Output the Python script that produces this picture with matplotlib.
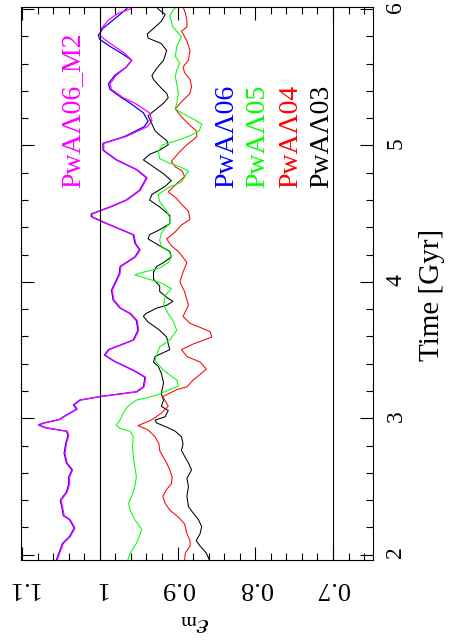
import matplotlib
matplotlib.use('Agg')
import matplotlib.pyplot as plt
from matplotlib.ticker import MultipleLocator, FuncFormatter

plt.rcParams['font.family'] = ['Liberation Serif', 'DejaVu Serif']
plt.rcParams['mathtext.fontset'] = 'stix'

# time [Gyr] and eps_m for each run
t_a06 = [1.961, 2.022, 2.083, 2.133, 2.195, 2.256, 2.286, 2.352, 2.398, 2.459,
         2.520, 2.570, 2.621, 2.672, 2.743, 2.814, 2.875, 2.905, 2.930, 2.951,
         2.966, 2.991, 3.011, 3.037, 3.067, 3.098, 3.133, 3.159, 3.194, 3.230,
         3.301, 3.351, 3.422, 3.463, 3.503, 3.574, 3.645, 3.716, 3.767, 3.807,
         3.868, 3.939, 4.010, 4.061, 4.112, 4.183, 4.234, 4.284, 4.345, 4.376,
         4.426, 4.477, 4.498, 4.549, 4.600, 4.671, 4.762, 4.823, 4.894, 4.965,
         5.015, 5.066, 5.137, 5.178, 5.239, 5.310, 5.350, 5.411, 5.452, 5.513,
         5.574, 5.625, 5.675, 5.726, 5.777, 5.807, 5.858, 5.919, 5.970, 6.000,
         6.017]
eps_a06 = [1.056, 1.052, 1.048, 1.039, 1.033, 1.039, 1.047, 1.049, 1.051, 1.043,
           1.040, 1.040, 1.036, 1.043, 1.046, 1.044, 1.041, 1.043, 1.070, 1.079,
           1.072, 1.052, 1.047, 1.039, 1.030, 1.034, 1.026, 1.000, 0.953, 0.944,
           0.942, 0.957, 0.983, 0.994, 0.989, 0.957, 0.951, 0.953, 0.961, 0.974,
           0.983, 0.985, 0.979, 0.975, 0.974, 0.955, 0.949, 0.955, 0.957, 0.970,
           0.991, 1.011, 1.011, 0.987, 0.966, 0.949, 0.940, 0.953, 0.979, 0.996,
           0.996, 0.968, 0.943, 0.938, 0.944, 0.961, 0.972, 0.987, 0.989, 0.981,
           0.966, 0.959, 0.972, 0.987, 1.000, 1.002, 0.996, 0.983, 0.972, 0.966,
           0.964]
eps_a06_m2 = [1.055, 1.051, 1.047, 1.038, 1.032, 1.038, 1.046, 1.048, 1.050, 1.042,
              1.039, 1.039, 1.035, 1.042, 1.045, 1.043, 1.040, 1.042, 1.069, 1.078,
              1.071, 1.051, 1.046, 1.038, 1.029, 1.033, 1.025, 0.999, 0.952, 0.943,
              0.941, 0.956, 0.982, 0.993, 0.988, 0.956, 0.950, 0.952, 0.960, 0.973,
              0.982, 0.984, 0.978, 0.974, 0.973, 0.954, 0.948, 0.954, 0.956, 0.969,
              0.990, 1.010, 1.010, 0.986, 0.965, 0.948, 0.939, 0.952, 0.978, 0.995,
              0.995, 0.966, 0.939, 0.933, 0.936, 0.955, 0.970, 0.985, 0.987, 0.979,
              0.966, 0.959, 0.968, 0.981, 0.994, 1.000, 0.998, 0.989, 0.976, 0.961,
              0.959]

t_a05 = [1.961, 2.012, 2.083, 2.184, 2.256, 2.326, 2.377, 2.428, 2.499, 2.570,
         2.641, 2.722, 2.793, 2.864, 2.905, 2.925, 2.951, 2.986, 3.037, 3.088,
         3.133, 3.169, 3.210, 3.235, 3.280, 3.351, 3.422, 3.463, 3.524, 3.574,
         3.645, 3.716, 3.767, 3.828, 3.899, 3.950, 3.990, 4.051, 4.071, 4.102,
         4.142, 4.183, 4.224, 4.254, 4.305, 4.356, 4.396, 4.426, 4.467, 4.518,
         4.589, 4.640, 4.691, 4.731, 4.813, 4.843, 4.874, 4.904, 4.955, 5.005,
         5.036, 5.076, 5.107, 5.157, 5.188, 5.239, 5.269, 5.310, 5.381, 5.452,
         5.503, 5.553, 5.604, 5.655, 5.726, 5.797, 5.868, 5.949, 5.990, 6.017]
eps_a05 = [0.964, 0.961, 0.953, 0.946, 0.955, 0.961, 0.963, 0.959, 0.955, 0.953,
           0.955, 0.957, 0.958, 0.957, 0.961, 0.974, 0.979, 0.974, 0.970, 0.964,
           0.953, 0.927, 0.910, 0.899, 0.901, 0.918, 0.929, 0.927, 0.923, 0.910,
           0.901, 0.906, 0.912, 0.918, 0.916, 0.908, 0.920, 0.955, 0.944, 0.923,
           0.912, 0.908, 0.911, 0.921, 0.923, 0.921, 0.916, 0.910, 0.910, 0.914,
           0.923, 0.925, 0.912, 0.895, 0.886, 0.897, 0.912, 0.923, 0.925, 0.919,
           0.901, 0.882, 0.872, 0.869, 0.878, 0.895, 0.903, 0.901, 0.899, 0.901,
           0.903, 0.901, 0.897, 0.903, 0.901, 0.895, 0.906, 0.910, 0.906, 0.901]

t_a04 = [1.961, 2.012, 2.063, 2.103, 2.154, 2.225, 2.276, 2.326, 2.377, 2.428,
         2.479, 2.519, 2.570, 2.621, 2.672, 2.722, 2.763, 2.814, 2.864, 2.915,
         2.946, 2.986, 3.037, 3.088, 3.159, 3.210, 3.230, 3.280, 3.331, 3.361,
         3.412, 3.453, 3.503, 3.544, 3.595, 3.635, 3.666, 3.696, 3.747, 3.828,
         3.929, 4.000, 4.071, 4.142, 4.224, 4.264, 4.315, 4.366, 4.417, 4.457,
         4.518, 4.569, 4.610, 4.660, 4.731, 4.772, 4.813, 4.843, 4.884, 4.955,
         5.005, 5.036, 5.066, 5.107, 5.147, 5.198, 5.239, 5.269, 5.320, 5.381,
         5.432, 5.483, 5.533, 5.574, 5.625, 5.696, 5.767, 5.838, 5.868, 5.919,
         5.970, 6.017]
eps_a04 = [0.891, 0.890, 0.884, 0.884, 0.888, 0.891, 0.899, 0.910, 0.916, 0.919,
           0.914, 0.908, 0.907, 0.910, 0.914, 0.919, 0.923, 0.924, 0.929, 0.938,
           0.951, 0.934, 0.921, 0.912, 0.919, 0.901, 0.888, 0.880, 0.869, 0.863,
           0.871, 0.888, 0.895, 0.880, 0.856, 0.858, 0.871, 0.884, 0.893, 0.886,
           0.891, 0.897, 0.893, 0.888, 0.899, 0.908, 0.914, 0.903, 0.895, 0.884,
           0.886, 0.895, 0.901, 0.912, 0.899, 0.891, 0.894, 0.903, 0.908, 0.897,
           0.888, 0.881, 0.875, 0.876, 0.884, 0.893, 0.899, 0.903, 0.895, 0.884,
           0.882, 0.884, 0.891, 0.893, 0.886, 0.884, 0.888, 0.895, 0.888, 0.888,
           0.890, 0.893]

t_a03 = [1.961, 2.012, 2.063, 2.103, 2.154, 2.205, 2.256, 2.306, 2.352, 2.428,
         2.499, 2.560, 2.621, 2.672, 2.722, 2.763, 2.814, 2.864, 2.905, 2.935,
         2.966, 2.986, 3.011, 3.057, 3.088, 3.133, 3.179, 3.260, 3.331, 3.382,
         3.412, 3.453, 3.503, 3.544, 3.595, 3.645, 3.706, 3.747, 3.767, 3.807,
         3.828, 3.858, 3.878, 3.929, 3.970, 4.020, 4.071, 4.112, 4.142, 4.183,
         4.224, 4.264, 4.315, 4.346, 4.376, 4.426, 4.487, 4.549, 4.600, 4.640,
         4.701, 4.742, 4.792, 4.843, 4.894, 4.935, 4.965, 5.005, 5.036, 5.076,
         5.107, 5.157, 5.218, 5.259, 5.310, 5.350, 5.381, 5.432, 5.483, 5.513,
         5.564, 5.625, 5.696, 5.747, 5.787, 5.817, 5.858, 5.909, 5.960, 6.000,
         6.017]
eps_a03 = [0.859, 0.863, 0.871, 0.876, 0.871, 0.869, 0.873, 0.880, 0.886, 0.888,
           0.886, 0.888, 0.882, 0.886, 0.891, 0.895, 0.893, 0.895, 0.903, 0.914,
           0.927, 0.929, 0.916, 0.912, 0.921, 0.918, 0.921, 0.918, 0.921, 0.925,
           0.931, 0.929, 0.910, 0.912, 0.914, 0.923, 0.938, 0.944, 0.941, 0.927,
           0.914, 0.906, 0.912, 0.923, 0.923, 0.931, 0.931, 0.927, 0.918, 0.908,
           0.910, 0.923, 0.938, 0.936, 0.925, 0.910, 0.910, 0.923, 0.936, 0.933,
           0.916, 0.908, 0.918, 0.931, 0.944, 0.936, 0.923, 0.912, 0.914, 0.923,
           0.929, 0.933, 0.938, 0.929, 0.918, 0.912, 0.914, 0.923, 0.931, 0.933,
           0.927, 0.918, 0.914, 0.921, 0.938, 0.939, 0.931, 0.921, 0.916, 0.925,
           0.927]

run_names = ['PwA\u039b06', 'PwA\u039b05', 'PwA\u039b04', 'PwA\u039b03']
run_colors = ['blue', '#00ff00', 'red', 'black']
label_eps = [0.829, 0.788, 0.746, 0.7065]

fig = plt.figure(figsize=(4.75, 6.4), dpi=100)
ax = fig.add_axes([21 / 475, 80 / 640, 352 / 475, 553.3 / 640])

ax.plot(eps_a03, t_a03, color='black', lw=0.75)
ax.plot(eps_a04, t_a04, color='red', lw=0.75)
ax.plot(eps_a05, t_a05, color='#00ff00', lw=0.75)
ax.plot(eps_a06, t_a06, color='blue', lw=0.9)
ax.plot(eps_a06_m2, t_a06, color='magenta', lw=0.9)

ax.axvline(1.0, color='black', lw=0.8)
ax.axvline(0.7, color='black', lw=0.8)

ax.set_xlim(1.1015, 0.6485)
ax.set_ylim(1.961, 6.017)

ax.xaxis.set_major_locator(MultipleLocator(0.1))
ax.xaxis.set_minor_locator(MultipleLocator(0.02))
ax.yaxis.set_major_locator(MultipleLocator(1))
ax.yaxis.set_minor_locator(MultipleLocator(0.2))
ax.xaxis.set_major_formatter(FuncFormatter(lambda v, p: '%g' % round(v, 2)))
ax.yaxis.set_major_formatter(FuncFormatter(lambda v, p: '%g' % round(v, 2)))

ax.tick_params(which='both', direction='in', top=True, bottom=True,
               left=True, right=True, width=0.8)
ax.tick_params(which='major', length=9.5)
ax.tick_params(which='minor', length=5)
ax.tick_params(axis='x', labelrotation=180, labelsize=19, pad=12)
ax.tick_params(axis='y', labelleft=False, labelright=True, labelrotation=90,
               labelsize=17, pad=9)
for sp in ax.spines.values():
    sp.set_linewidth(0.8)

ax.text(1.0258, 4.69, 'PwA\u039b06_M2', rotation=90, rotation_mode='anchor',
        ha='left', va='baseline', color='magenta', fontsize=20)
for name, col, e in zip(run_names, run_colors, label_eps):
    ax.text(e, 4.69, name, rotation=90, rotation_mode='anchor',
            ha='left', va='baseline', color=col, fontsize=20)

fig.text(432 / 475, 1 - 295 / 640, 'Time [Gyr]', rotation=90,
         ha='center', va='center', fontsize=21)
fig.text(195 / 475, 1 - 625 / 640, r'$\epsilon_{\rm m}$', rotation=180,
         ha='center', va='center', fontsize=21)

fig.savefig('out.png', dpi=100)
